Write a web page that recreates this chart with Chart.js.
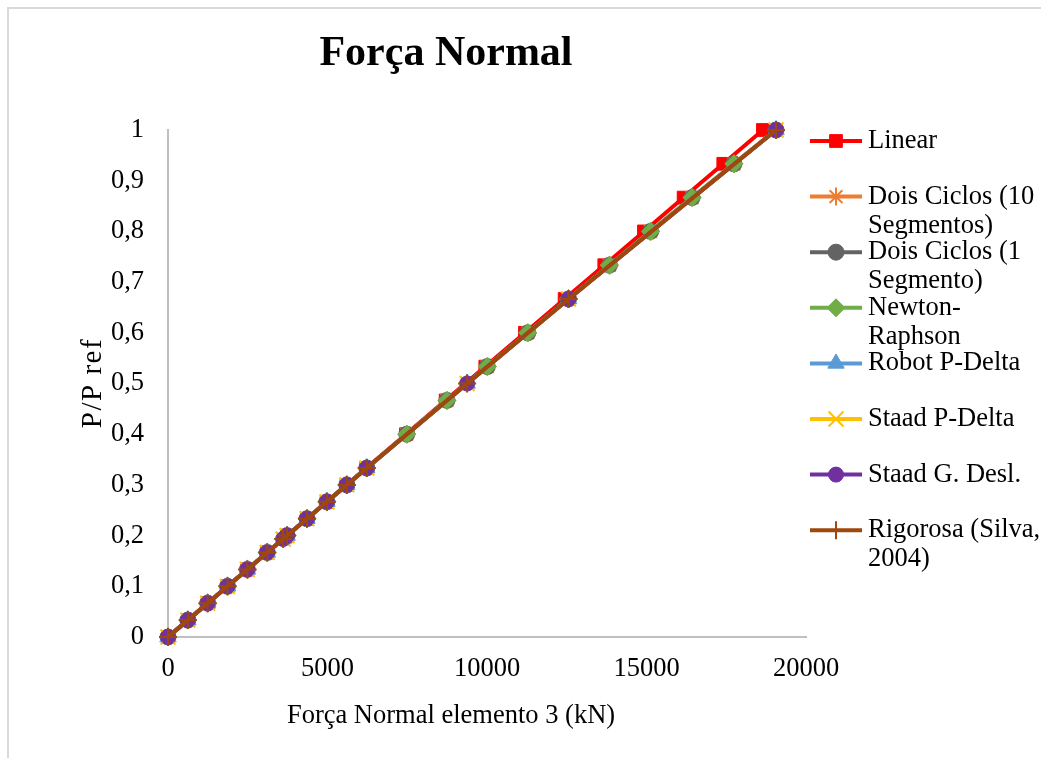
<!DOCTYPE html>
<html>
<head>
<meta charset="utf-8">
<script src="https://cdn.jsdelivr.net/npm/chart.js@4/dist/chart.umd.min.js"></script>
<style>
  html, body { margin: 0; padding: 0; background: #fff; }
  #wrap { position: relative; width: 1041px; height: 758px; overflow: hidden; }
  #frame { position: absolute; left: 7px; top: 7px; width: 1200px; height: 900px; border: 2px solid #d9d9d9; }
  #chart { position: absolute; left: 0; top: 0; }
</style>
</head>
<body>
<div id="wrap">
  <div id="frame"></div>
  <canvas id="chart" width="1041" height="758"></canvas>
</div>
<script>
/* Força normal no elemento 3 vs. fator de carga P/P ref */

// load steps shared by the linear and iterative analyses
const P_STEPS = [0, 0.0333, 0.0667, 0.1, 0.1333, 0.1667, 0.2, 0.2333, 0.2667, 0.3, 0.3333,
  0.4, 0.4667, 0.5333, 0.6, 0.6667, 0.7333, 0.8, 0.8667, 0.9333, 1];

// load steps reported by the P-Delta / program runs
const P_SUB = [0, 0.0333, 0.0667, 0.1, 0.1333, 0.1667, 0.1933, 0.2, 0.2333, 0.2667, 0.3, 0.3333,
  0.5, 0.6667, 1];

// normal force (kN)
const N_LINEAR = [0, 622, 1243, 1865, 2487, 3108, 3730, 4352, 4973, 5595, 6217,
  7460, 8703, 9947, 11190, 12433, 13677, 14920, 16163, 17407, 18650];
const N_DOIS_CICLOS_10 = [0, 622, 1243, 1865, 2488, 3110, 3733, 4357, 4981, 5606, 6232,
  7486, 8745, 10009, 11279, 12555, 13839, 15130, 16430, 17741, 19060];
const N_DOIS_CICLOS_1 = [0, 622, 1243, 1865, 2488, 3110, 3733, 4357, 4981, 5606, 6232,
  7486, 8745, 10009, 11279, 12555, 13839, 15130, 16430, 17741, 19060];
const N_NEWTON = [0, 622, 1243, 1865, 2488, 3110, 3733, 4357, 4981, 5606, 6232,
  7486, 8745, 10009, 11279, 12555, 13839, 15130, 16430, 17741, 19060];
const N_ROBOT = [0, 622, 1243, 1865, 2488, 3110, 3609, 3733, 4357, 4981, 5606, 6232, 9376, 12555, 19060];
const N_STAAD_PD = [0, 622, 1243, 1865, 2488, 3110, 3609, 3733, 4357, 4981, 5606, 6232, 9376, 12555, 19060];
const N_STAAD_GD = [0, 622, 1243, 1865, 2488, 3110, 3609, 3733, 4357, 4981, 5606, 6232, 9376, 12555, 19060];
const N_RIGOROSA = [0, 622, 1243, 1865, 2488, 3110, 3609, 3733, 4357, 4981, 5606, 6232, 9376, 12555, 19060];

const X_TICKS = [0, 5000, 10000, 15000, 20000];
const Y_TICKS = [0, 0.1, 0.2, 0.3, 0.4, 0.5, 0.6, 0.7, 0.8, 0.9, 1];

const X_TITLE = 'Força Normal elemento 3 (kN)';
const Y_TITLE = 'P/P ref';

const SERIF = '"Liberation Serif", "Times New Roman", serif';
const TEXT_SIZE = 26.5;

const LEGEND_LINES = [
  ['Linear'],
  ['Dois Ciclos (10', 'Segmentos)'],
  ['Dois Ciclos (1', 'Segmento)'],
  ['Newton-', 'Raphson'],
  ['Robot P-Delta'],
  ['Staad P-Delta'],
  ['Staad G. Desl.'],
  ['Rigorosa (Silva,', '2004)'],
];

function pairs(xs, ys) {
  return xs.map((x, i) => ({ x, y: ys[i] }));
}

function series(label, xs, ys, color, style, radius, stroke) {
  return {
    label,
    data: pairs(xs, ys),
    borderColor: color,
    backgroundColor: color,
    borderWidth: 4,
    pointStyle: style,
    pointRadius: radius,
    pointHoverRadius: radius,
    pointBackgroundColor: color,
    pointBorderColor: color,
    pointBorderWidth: stroke ? 2 : 1,
    tension: 0,
    clip: false,
  };
}

const datasets = [
  series('Linear', N_LINEAR, P_STEPS, '#ff0000', 'rect', 9),
  series('Dois Ciclos (10 Segmentos)', N_DOIS_CICLOS_10, P_STEPS, '#ed7d31', 'star', 9, true),
  series('Dois Ciclos (1 Segmento)', N_DOIS_CICLOS_1, P_STEPS, '#636363', 'circle', 8),
  series('Newton-Raphson', N_NEWTON, P_STEPS, '#70ad47', 'rectRot', 9),
  series('Robot P-Delta', N_ROBOT, P_SUB, '#5b9bd5', 'triangle', 9.5),
  series('Staad P-Delta', N_STAAD_PD, P_SUB, '#ffc000', 'crossRot', 10.5, true),
  series('Staad G. Desl.', N_STAAD_GD, P_SUB, '#7030a0', 'circle', 7.5),
  series('Rigorosa (Silva, 2004)', N_RIGOROSA, P_SUB, '#9e480e', 'cross', 9, true),
];
// later series are painted over earlier ones
datasets.forEach((d, i) => { d.order = datasets.length - i; });

/* ── axis titles and legend ── */
const sideLegend = {
  id: 'sideLegend',
  afterDraw(chart) {
    const ctx = chart.ctx;
    const x0 = 810, x1 = 862, tx = 868;
    ctx.save();
    ctx.fillStyle = '#000';
    ctx.font = TEXT_SIZE + 'px ' + SERIF;
    ctx.textAlign = 'center';
    ctx.textBaseline = 'middle';
    ctx.fillText(X_TITLE, 451, 716);

    ctx.save();
    ctx.translate(93, 383);
    ctx.rotate(-Math.PI / 2);
    ctx.font = '29px ' + SERIF;
    if ('letterSpacing' in ctx) ctx.letterSpacing = '1.5px';
    ctx.fillText(Y_TITLE, 0, 0);
    ctx.restore();

    chart.data.datasets.forEach((ds, i) => {
      const y = 141 + i * 55.6;
      ctx.strokeStyle = ds.borderColor;
      ctx.lineWidth = ds.borderWidth;
      ctx.beginPath();
      ctx.moveTo(x0, y);
      ctx.lineTo(x1, y);
      ctx.stroke();

      ctx.fillStyle = ds.pointBackgroundColor;
      ctx.strokeStyle = ds.pointBorderColor;
      ctx.lineWidth = ds.pointBorderWidth;
      Chart.helpers.drawPoint(ctx, {
        pointStyle: ds.pointStyle,
        radius: ds.pointRadius,
        rotation: 0,
        borderWidth: ds.pointBorderWidth,
      }, (x0 + x1) / 2, y);

      ctx.fillStyle = '#000';
      ctx.textAlign = 'left';
      ctx.textBaseline = 'middle';
      LEGEND_LINES[i].forEach((line, j) => ctx.fillText(line, tx, y + j * 29));
    });
    ctx.restore();
  },
};

new Chart(document.getElementById('chart'), {
  type: 'line',
  data: { datasets },
  options: {
    responsive: false,
    devicePixelRatio: 1,
    animation: false,
    layout: { padding: { left: 86, right: 235, top: 0, bottom: 20 } },
    plugins: {
      legend: { display: false },
      tooltip: { enabled: false },
      title: {
        display: true,
        text: 'Força Normal',
        color: '#000',
        font: { family: SERIF, size: 42, weight: 'bold', lineHeight: 1.2 },
        padding: { top: 29, bottom: 50.6 },
      },
    },
    scales: {
      x: {
        type: 'linear',
        min: 0,
        max: 20000,
        afterBuildTicks: s => { s.ticks = X_TICKS.map(v => ({ value: v })); },
        afterFit: s => { s.height = 101; },
        grid: { display: false, drawTicks: false },
        border: { display: true, color: '#bfbfbf', width: 2 },
        ticks: {
          color: '#000',
          padding: 16,
          maxRotation: 0,
          font: { family: SERIF, size: TEXT_SIZE, lineHeight: 1.2 },
          callback: v => String(v),
        },
      },
      y: {
        type: 'linear',
        min: 0,
        max: 1,
        afterBuildTicks: s => { s.ticks = Y_TICKS.map(v => ({ value: v })); },
        afterFit: s => { s.width = 82; },
        grid: { display: false, drawTicks: false },
        border: { display: true, color: '#bfbfbf', width: 2 },
        ticks: {
          color: '#000',
          padding: 24,
          font: { family: SERIF, size: TEXT_SIZE, lineHeight: 1.2 },
          callback: v => String(Math.round(v * 10) / 10).replace('.', ','),
        },
      },
    },
  },
  plugins: [sideLegend],
});
</script>
</body>
</html>
